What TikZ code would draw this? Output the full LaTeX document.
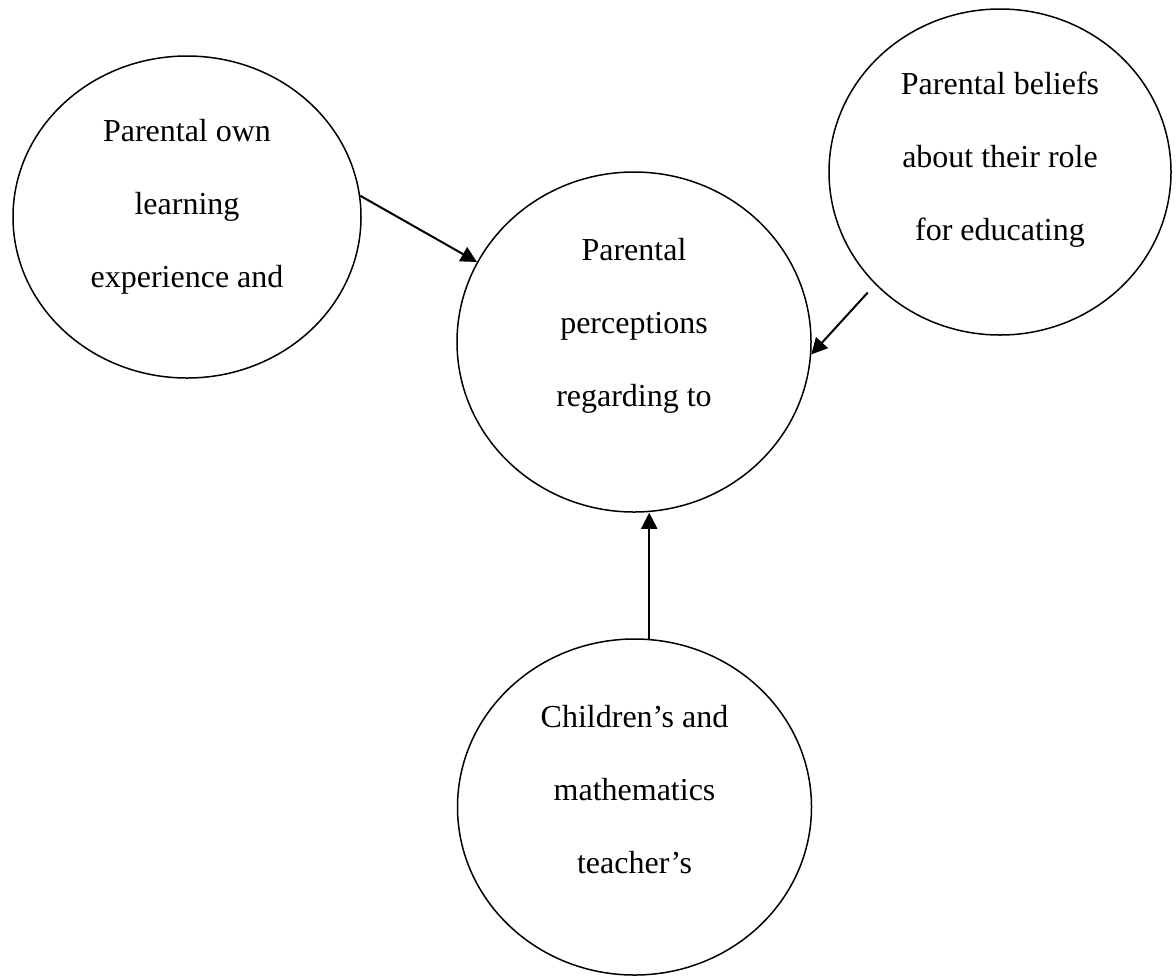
\documentclass[tikz,border=0pt]{standalone}
\usepackage{fontspec}
\setmainfont{Liberation Serif}
\usetikzlibrary{shapes.geometric, arrows.meta}
\tikzset{>={Triangle[length=8pt,width=8pt]},
bubble/.style={ellipse, draw, line width=0.75pt, inner sep=0pt},
blurb/.style={align=center, font=\fontsize{16pt}{36.5pt}\selectfont},
}

\begin{document}
\begin{tikzpicture}[x=0.5pt, y=-0.5pt]
    \useasboundingbox (0,0) rectangle (1176,976);
    \node[bubble, minimum width=174pt, minimum height=161pt] (own) at (187,217) {};
    \node[bubble, minimum width=177pt, minimum height=170pt] (perc) at (634,342) {};
    \node[bubble, minimum width=171pt, minimum height=163pt] (belief) at (1000,172) {};
    \node[bubble, minimum width=177pt, minimum height=168pt] (kids) at (634.5,807) {};
    \node[blurb] (ownT) at (187,206.5) {Parental own\\learning\\experience and};
    \node[blurb] (percT) at (634,325.5) {Parental\\perceptions\\regarding to};
    \node[blurb] (beliefT) at (1000,159.5) {Parental beliefs\\about their role\\for educating};
    \node[blurb] (kidsT) at (634.5,790) {Children’s and\\mathematics\\teacher’s};
    \draw[line width=1pt]
        (own.7) edge[->] (perc.153)
        (belief.222) edge[->, shorten <=5.5pt] (perc.-4)
        (kids.85) edge[->] (kids.85 |- perc.south)
        ;
\end{tikzpicture}
\end{document}
